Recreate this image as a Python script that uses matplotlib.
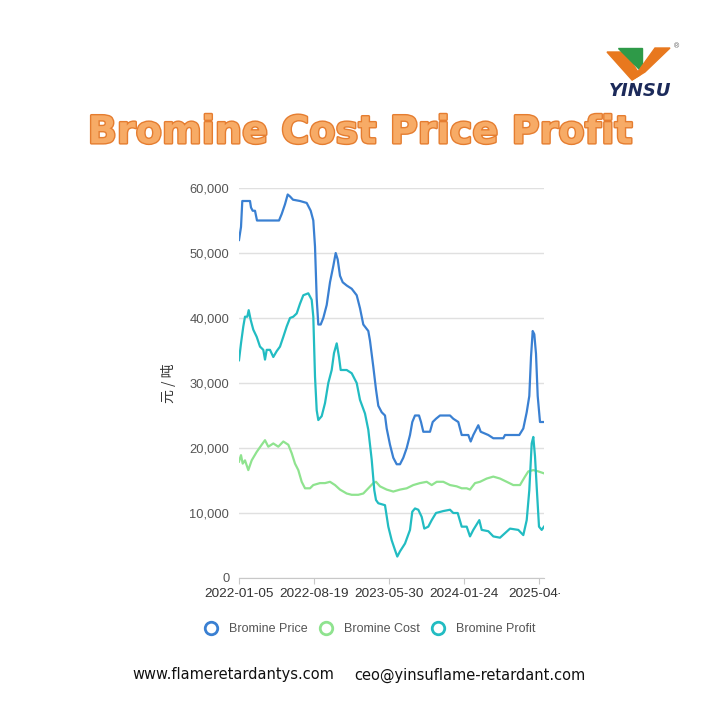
import matplotlib.pyplot as plt
import matplotlib.patheffects as pe
from matplotlib.lines import Line2D
from matplotlib.patches import Polygon
from matplotlib.transforms import Bbox

plt.rcParams['font.family'] = ['Liberation Sans', 'Noto Sans CJK SC']

# x positions are sample indices on a category axis (0 .. 305)
tick_pos = [0, 75, 150, 225, 300]
tick_labels = ["2022-01-05", "2022-08-19", "2023-05-30", "2024-01-24", "2025-04-2"]

price_x = [0, 2, 3.3, 11, 12, 13.7, 16, 18, 40, 42.7, 46, 48.7, 51, 54, 61, 67.7, 71.7,
           74.3, 76, 77.7, 79.3, 81.7, 84.3, 87.7, 91, 94.3, 96.7, 98.7, 101, 103.7,
           107.7, 112.7, 117.7, 121, 124.3, 129.3, 131, 134.3, 137, 139.3, 142.7, 146,
           147.7, 151, 154.3, 157.7, 161, 164.3, 167.7, 171, 173.3, 176, 180, 182,
           184.3, 191, 193.7, 197, 201, 211, 214.3, 219.3, 222.7, 229.3, 231.7, 234.3,
           239.3, 241.7, 249.3, 254.3, 264.3, 266, 280.3, 284.3, 287.7, 290.3, 292,
           293.7, 295.3, 297, 298.7, 301, 305]
price_y = [52000, 54000, 58000, 58000, 57000, 56500, 56500, 55000, 55000, 56000, 57500,
           59000, 58700, 58200, 58000, 57700, 56500, 55000, 51000, 43000, 39000, 39000,
           40000, 42000, 45500, 48000, 50000, 49000, 46500, 45500, 45000, 44500, 43500,
           41500, 39000, 38000, 36500, 32500, 29000, 26500, 25500, 25000, 23000, 20500,
           18500, 17500, 17500, 18500, 20000, 22000, 24000, 25000, 25000, 24000, 22500,
           22500, 24000, 24500, 25000, 25000, 24500, 24000, 22000, 22000, 21000, 22000,
           23500, 22500, 22000, 21500, 21500, 22000, 22000, 23000, 25500, 28000, 34000,
           38000, 37500, 34500, 28000, 24000, 24000]

cost_x = [0, 2, 3.7, 6, 9.3, 12.7, 17.7, 22.7, 26, 29.3, 34.3, 39.3, 44.3, 49.3, 52.7,
          56, 59.3, 62.7, 66, 71, 74.3, 81, 86, 91, 96, 101, 107.7, 112.7, 119.3,
          124.3, 129.3, 134.3, 137, 141, 147.7, 154.3, 161, 167.7, 174.3, 181, 187.7,
          192.7, 197.7, 204.3, 211, 217.7, 222.7, 227.7, 231, 236, 241, 247.7, 254.3,
          261, 267.7, 274.3, 281, 286, 289.3, 294.3, 299.3, 305]
cost_y = [17900, 18900, 17600, 18100, 16600, 18100, 19400, 20500, 21200, 20200, 20700,
          20200, 21000, 20500, 19200, 17600, 16600, 14800, 13800, 13800, 14300, 14600,
          14600, 14800, 14300, 13600, 13000, 12800, 12800, 13000, 13800, 14600, 14800,
          14100, 13600, 13300, 13600, 13800, 14300, 14600, 14800, 14300, 14800, 14800,
          14300, 14100, 13800, 13800, 13600, 14600, 14800, 15300, 15600, 15300, 14800,
          14300, 14300, 15600, 16400, 16600, 16400, 16100]

profit_x = [0, 2, 4.3, 6, 8.3, 9.7, 11.7, 14.3, 17.7, 21, 24.3, 26, 27.7, 31, 34.3,
            37.7, 41, 44.3, 47.7, 51, 54.3, 57.7, 61, 64.3, 69.3, 72.7, 74.3, 76, 77.7,
            79.3, 82.7, 86, 89.3, 92.7, 95, 97.7, 100, 101.7, 107.7, 112.7, 117.7, 121,
            126, 129.3, 132.7, 135.3, 137, 139.3, 146, 149.3, 152.7, 156, 158.3, 161,
            166, 171, 173.3, 176, 179.3, 182.7, 185.3, 189.3, 192.7, 197, 204.3, 211,
            214.3, 218.7, 222.7, 227.7, 231, 234.3, 240.3, 242.7, 249.3, 254.3, 261,
            266, 271, 279.3, 284.3, 287.7, 290.3, 292.7, 294.3, 296, 297.7, 300, 302.7,
            305]
profit_y = [33500, 36100, 38700, 40200, 40200, 41200, 39700, 38200, 37100, 35600, 35100,
            33600, 35100, 35100, 34000, 34900, 35600, 37100, 38700, 40000, 40200, 40700,
            42200, 43500, 43800, 42800, 40200, 31000, 25800, 24300, 24900, 26900, 30000,
            32000, 34600, 36100, 34000, 32000, 32000, 31500, 30000, 27400, 25300, 22800,
            18200, 13500, 12000, 11500, 11200, 7900, 5800, 4300, 3300, 4100, 5300, 7400,
            10200, 10700, 10500, 9400, 7600, 7900, 8900, 10000, 10300, 10500, 10000,
            10000, 7900, 7900, 6400, 7400, 8900, 7400, 7200, 6400, 6200, 6900, 7600,
            7400, 6600, 8900, 13500, 20700, 21700, 18700, 14000, 7900, 7400, 7900]

c_price = '#3a80d2'
c_cost = '#8fe38f'
c_profit = '#22bcc2'

fig = plt.figure(figsize=(7.2, 7.2), dpi=100)
ax = fig.add_axes([239 / 720, 142 / 720, 305 / 720, 390 / 720])

ax.plot(cost_x, cost_y, color=c_cost, lw=1.6, zorder=3)
ax.plot(price_x, price_y, color=c_price, lw=1.6, zorder=4)
ax.plot(profit_x, profit_y, color=c_profit, lw=1.6, zorder=3)

ax.set_xlim(0, 305)
ax.set_ylim(0, 60000)
ax.set_yticks(range(0, 60001, 10000))
ax.set_yticklabels([f"{v:,}" for v in range(0, 60001, 10000)])
ax.set_xticks(tick_pos)
ax.set_xticklabels(tick_labels)
ax.grid(axis='y', color='#e0e0e0', lw=1)
ax.set_axisbelow(True)
for s in ['top', 'right', 'left']:
    ax.spines[s].set_visible(False)
ax.spines['bottom'].set_color('#c8c8c8')
ax.tick_params(axis='y', length=0, labelsize=9.3, labelcolor='#555555', pad=7)
ax.tick_params(axis='x', length=4, color='#c8c8c8', labelsize=9.7, labelcolor='#333333', pad=3)
ax.set_ylabel("元 / 吨", fontsize=10, color='#333333', labelpad=10,
              family=['Noto Sans CJK SC', 'DejaVu Sans'])

# the last date label is cut off at the picture edge
clip = Bbox.from_extents(0, 0, 560, 720)
for lab in ax.get_xticklabels():
    lab.set_clip_on(True)
    lab.set_clip_box(clip)

handles = [Line2D([], [], ls='none', marker='o', ms=9, mfc='white', mew=2, mec=c)
           for c in (c_price, c_cost, c_profit)]
fig.legend(handles, ["Bromine Price", "Bromine Cost", "Bromine Profit"],
           loc='center', bbox_to_anchor=(0.51, 0.126), ncol=3, frameon=False,
           fontsize=9, labelcolor='#555555', handletextpad=0.4, columnspacing=0.5)

fig.text(0.501, 0.815, "Bromine Cost Price Profit", ha='center', va='center',
         fontsize=27.5, fontweight='bold', color='#f7ab66', family='DejaVu Sans',
         path_effects=[pe.withStroke(linewidth=2, foreground='#e57d30')])

# logo
fig.patches.append(Polygon([[607 / 720, 1 - 52 / 720], [625 / 720, 1 - 52 / 720],
                            [640 / 720, 1 - 75 / 720], [632 / 720, 1 - 80 / 720]],
                           closed=True, transform=fig.transFigure, color='#e8781e'))
fig.patches.append(Polygon([[618 / 720, 1 - 48 / 720], [642 / 720, 1 - 48 / 720],
                            [642 / 720, 1 - 72 / 720]],
                           closed=True, transform=fig.transFigure, color='#2e9a48'))
fig.patches.append(Polygon([[632 / 720, 1 - 80 / 720], [645 / 720, 1 - 72 / 720],
                            [670 / 720, 1 - 48 / 720], [655 / 720, 1 - 48 / 720]],
                           closed=True, transform=fig.transFigure, color='#e8781e'))
fig.text(640 / 720, 1 - 91 / 720, "YINSU", ha='center', va='center', fontsize=13,
         fontweight='bold', style='italic', color='#1c2a5a', family='DejaVu Sans')
fig.text(676 / 720, 1 - 47 / 720, "®", ha='center', va='center', fontsize=5, color='#555555')

fig.text(233 / 720, 1 - 675 / 720, "www.flameretardantys.com", ha='center', va='center',
         fontsize=10.5, color='#111111', family='DejaVu Sans')
fig.text(470 / 720, 1 - 675 / 720, "ceo@yinsuflame-retardant.com", ha='center', va='center',
         fontsize=10.5, color='#111111', family='DejaVu Sans')

fig.savefig("out.png", dpi=100)
